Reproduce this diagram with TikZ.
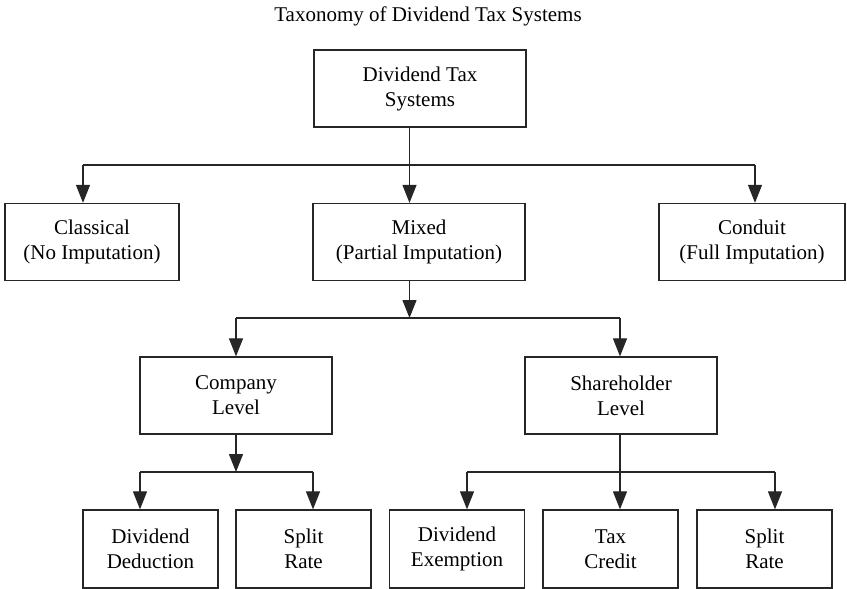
\documentclass[tikz,border=0pt]{standalone}
\usepackage{fontspec}
\setmainfont{Liberation Serif}
\usetikzlibrary{arrows.meta}
\begin{document}
\begin{tikzpicture}[x=1pt,y=-1pt,
  box/.style={draw=black!85,line width=1.3pt,inner sep=0pt,align=center,
    minimum height=77pt,font=\fontsize{21}{25}\selectfont},
  conn/.style={draw=black!85,line width=1.2pt},
  arr/.style={conn,-{Triangle[length=18pt,width=14pt]}}]
\useasboundingbox (0,0) rectangle (847,589);
\node[font=\fontsize{21}{25}\selectfont,anchor=base] (title) at (428,21) {Taxonomy of Dividend Tax Systems};
% boxes
\node[box,minimum width=212pt] (root) at (420,88.5) {Dividend Tax\\Systems};
\node[box,minimum width=174pt] (cl) at (92,242) {Classical\\(No Imputation)};
\node[box,minimum width=212pt] (mx) at (419,242) {Mixed\\(Partial Imputation)};
\node[box,minimum width=186pt] (cd) at (752,242) {Conduit\\(Full Imputation)};
\node[box,minimum width=192pt] (co) at (236,395.5) {Company\\Level};
\node[box,minimum width=192pt] (sh) at (621,395.5) {Shareholder\\Level};
\node[box,minimum width=135pt,minimum height=78pt] (dd) at (150.5,549) {Dividend\\Deduction};
\node[box,minimum width=135pt,minimum height=78pt] (sr1) at (303.5,549) {Split\\Rate};
\node[box,minimum width=135pt,minimum height=78pt] (de) at (457,549) {Dividend\\Exemption};
\node[box,minimum width=135pt,minimum height=78pt] (tc) at (610.5,549) {Tax\\Credit};
\node[box,minimum width=135pt,minimum height=78pt] (sr2) at (764.5,549) {Split\\Rate};
% level 1 connectors
\coordinate (j1) at (409.5,165);
\coordinate (j1l) at (83,165);
\coordinate (j1r) at (755,165);
\draw[conn] (root.south -| j1) -- (j1);
\draw[conn] (j1l) -- (j1r);
\draw[arr] (j1l) -- (j1l |- cl.north);
\draw[arr] (j1) -- (j1 |- mx.north);
\draw[arr] (j1r) -- (j1r |- cd.north);
% level 2 connectors
\coordinate (j2) at (409.5,318);
\coordinate (j2l) at (236,318);
\coordinate (j2r) at (620,318);
\draw[arr] (mx.south -| j2) -- (j2);
\draw[conn] (j2l) -- (j2r);
\draw[arr] (j2l) -- (j2l |- co.north);
\draw[arr] (j2r) -- (j2r |- sh.north);
% company connectors
\coordinate (j3) at (236,472);
\coordinate (j3l) at (140,472);
\coordinate (j3r) at (313,472);
\draw[arr] (co.south -| j3) -- (j3);
\draw[conn] (j3l) -- (j3r);
\draw[arr] (j3l) -- (j3l |- dd.north);
\draw[arr] (j3r) -- (j3r |- sr1.north);
% shareholder connectors
\coordinate (j4) at (620,472);
\coordinate (j4l) at (467,472);
\coordinate (j4r) at (775,472);
\draw[arr] (sh.south -| j4) -- (j4 |- tc.north);
\draw[conn] (j4l) -- (j4r);
\draw[arr] (j4l) -- (j4l |- de.north);
\draw[arr] (j4r) -- (j4r |- sr2.north);
\end{tikzpicture}
\end{document}
